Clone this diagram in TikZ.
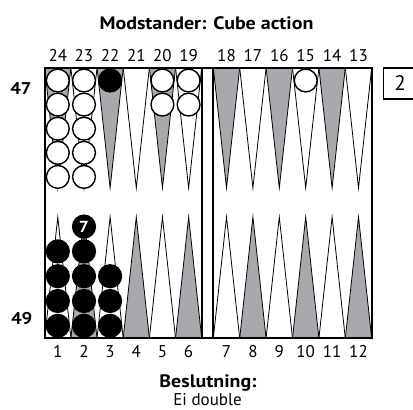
\documentclass[tikz,border=0pt]{standalone}
\usepackage{fontspec}
\setmainfont{PT Sans}[BoldFeatures={FakeStretch=1.11}]
\definecolor{ptgrey}{RGB}{167,169,172}
\begin{document}
\begin{tikzpicture}[x=1pt,y=-1pt,
  frame/.style={draw=black,line width=1.8pt},
  tri/.style={draw=black,line width=0.8pt,line join=miter},
  wchk/.style={circle,draw=black,fill=white,line width=1.4pt,minimum size=22.8pt,inner sep=0pt},
  bchk/.style={circle,draw=black,fill=black,line width=1.4pt,minimum size=22.8pt,inner sep=0pt},
  numlbl/.style={font=\fontsize{17}{17}\selectfont,anchor=base,inner sep=0pt},
  pipl/.style={font=\fontsize{17}{17}\selectfont\bfseries,anchor=base,inner sep=0pt},
  head/.style={font=\fontsize{18}{18}\selectfont\bfseries,anchor=base,inner sep=0pt},
  body/.style={font=\fontsize{17}{17}\selectfont,anchor=base,inner sep=0pt},
  cubebox/.style={draw=black,line width=1.4pt,minimum width=33pt,minimum height=31pt,inner sep=0pt,font=\fontsize{21}{21}\selectfont}
]
\useasboundingbox (0,0) rectangle (413,410);
\clip (0,0) rectangle (413,410);
% triangles, left half
\foreach \i in {0,...,5}{
  \pgfmathsetmacro{\xa}{44.7+26.17*\i}
  \pgfmathsetmacro{\xm}{\xa+13.08}
  \pgfmathsetmacro{\xb}{\xa+26.17}
  \pgfmathsetmacro{\gt}{int(mod(\i,2))}
  \ifnum\gt=0
    \filldraw[tri,fill=ptgrey] (\xa,67.7) -- (\xm,188) -- (\xb,67.7) -- cycle;
    \filldraw[tri,fill=white] (\xa,338.3) -- (\xm,217) -- (\xb,338.3) -- cycle;
  \else
    \filldraw[tri,fill=white] (\xa,67.7) -- (\xm,188) -- (\xb,67.7) -- cycle;
    \filldraw[tri,fill=ptgrey] (\xa,338.3) -- (\xm,217) -- (\xb,338.3) -- cycle;
  \fi
}
% triangles, right half
\foreach \j in {0,...,5}{
  \pgfmathsetmacro{\xa}{213.3+26.4*\j}
  \pgfmathsetmacro{\xm}{\xa+13.2}
  \pgfmathsetmacro{\xb}{\xa+26.4}
  \pgfmathsetmacro{\gt}{int(mod(\j,2))}
  \ifnum\gt=0
    \filldraw[tri,fill=ptgrey] (\xa,67.7) -- (\xm,188) -- (\xb,67.7) -- cycle;
    \filldraw[tri,fill=white] (\xa,338.3) -- (\xm,217) -- (\xb,338.3) -- cycle;
  \else
    \filldraw[tri,fill=white] (\xa,67.7) -- (\xm,188) -- (\xb,67.7) -- cycle;
    \filldraw[tri,fill=ptgrey] (\xa,338.3) -- (\xm,217) -- (\xb,338.3) -- cycle;
  \fi
}
% board frame and bar
\draw[frame] (44.7,67.7) rectangle (371.7,338.3);
\draw[frame] (201.7,67.7) -- (201.7,338.3);
\draw[frame] (213.3,67.7) -- (213.3,338.3);
% point numbers
\foreach \n [count=\k from 0] in {24,23,22,21,20,19}{
  \node[numlbl] (top\n) at (44.7+26.17*\k+13.08,61.7) {\n};
}
\foreach \n [count=\k from 0] in {18,17,16,15,14,13}{
  \node[numlbl] (top\n) at (213.3+26.4*\k+13.2,61.7) {\n};
}
\foreach \n [count=\k from 0] in {1,2,3,4,5,6}{
  \node[numlbl] (bot\n) at (44.7+26.17*\k+13.08,357) {\n};
}
\foreach \n [count=\k from 0] in {7,8,9,10,11,12}{
  \node[numlbl] (bot\n) at (213.3+26.4*\k+13.2,357) {\n};
}
% white checkers (top)
\foreach \k in {0,...,4}{
  \node[wchk] (w24-\k) at (57.8,80.5+24.1*\k) {};
  \node[wchk] (w23-\k) at (84.0,80.5+24.1*\k) {};
}
\foreach \k in {0,1}{
  \node[wchk] (w20-\k) at (162.4,80.5+24.1*\k) {};
  \node[wchk] (w19-\k) at (188.6,80.5+24.1*\k) {};
}
\node[wchk] (w15-0) at (305.7,80.5) {};
\node[bchk] (b22-0) at (110.1,80.5) {};
% black checkers (bottom)
\foreach \k in {0,...,3}{
  \node[bchk] (b1-\k) at (57.8,325.8-24.8*\k) {};
  \node[bchk] (b2-\k) at (84.0,325.8-24.8*\k) {};
}
\node[bchk,text=white,font=\fontsize{16}{16}\selectfont\bfseries] (b2-4) at (84.0,226.6) {7};
\foreach \k in {0,...,2}{
  \node[bchk] (b3-\k) at (110.1,325.8-24.8*\k) {};
}
% pip counts
\node[pipl] (pipTop) at (21,94.3) {47};
\node[pipl] (pipBot) at (21.7,324) {49};
% cube
\node[cubebox] (cube) at (400,83.3) {2};
% texts
\node[head] (title) at (206.5,29.3) {Modstander: Cube action};
\node[head] (dec) at (208,387.3) {Beslutning:};
\node[body] (decval) at (207.5,405) {Ei double};
\end{tikzpicture}
\end{document}
